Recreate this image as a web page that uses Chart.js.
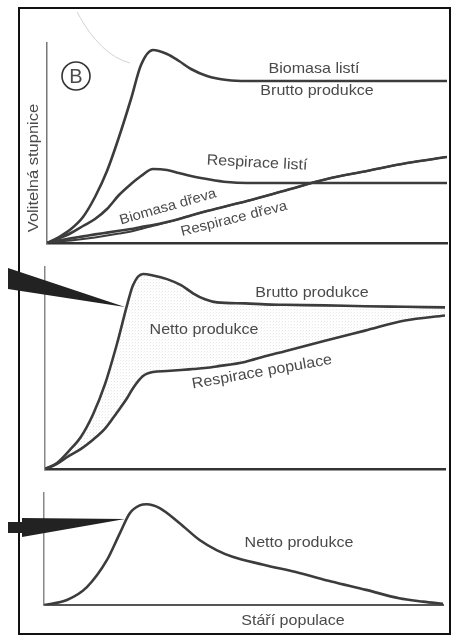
<!DOCTYPE html>
<html>
<head>
<meta charset="utf-8">
<script src="https://cdn.jsdelivr.net/npm/chart.js@4.4.1/dist/chart.umd.min.js"></script>
<style>
  html, body { margin: 0; padding: 0; background: #fff; }
  #page { position: relative; width: 456px; height: 640px; overflow: hidden; }
  #frame { position: absolute; left: 18px; top: 7px; width: 433px; height: 628px; box-sizing: border-box; border: 2px solid #111; }
  canvas { position: absolute; left: 0; }
</style>
</head>
<body>
<div id="page">
  <div id="frame"></div>
  <canvas id="top" width="456" height="252" style="top:0"></canvas>
  <canvas id="mid" width="456" height="222" style="top:252px"></canvas>
  <canvas id="bot" width="456" height="166" style="top:474px"></canvas>
</div>
<script>
// top panel: leaves and wood
const topAge = [0, 3, 6, 9, 12, 15, 18, 21, 23.5, 26.5, 30, 33, 36, 40, 45, 50, 60, 70, 80, 90, 100];
const leafBiomass = [0, 3, 7, 13, 23, 36, 53, 72, 89, 96.5, 94.5, 91, 87, 83.5, 81.5, 81, 81, 81, 81, 81, 81];
const leafResp = [0, 2.3, 5, 8.5, 12, 17, 24, 29.5, 33.5, 37, 36.5, 35, 33.5, 32, 30.5, 30, 30, 30, 30, 30, 30];
const woodBiomass = [0, 1.2, 2.3, 3.3, 4.3, 5.2, 6.1, 7, 8, 9, 10.5, 12, 13.8, 16, 18.5, 21, 26.5, 32, 36, 40, 43];
const woodResp = [0, 0.6, 1.3, 2, 2.8, 3.7, 4.7, 5.8, 7, 8.6, 10.3, 12, 13.8, 16, 18.5, 21, 26.5, 32, 36, 40, 43];

// middle panel: population
const midAge = [0, 3, 6, 9, 12, 15, 18, 20.5, 22, 24.5, 27, 30.5, 34, 37, 40, 43, 50, 55, 60, 70, 80, 90, 100];
const grossProd = [0, 3, 9, 16, 27, 42, 62, 81, 91, 96.5, 95.8, 94, 91, 87, 84, 82.5, 82, 81.5, 81.3, 81, 80.6, 80.3, 80];
const popResp = [0, 2.5, 6.5, 10, 14.5, 20, 28, 35, 40, 46, 48, 48.5, 49, 49.5, 50, 50.8, 53, 55.8, 58.3, 63.5, 68.5, 73.5, 76];

// bottom panel: net production
const botAge = [0, 5.75, 10.75, 15.75, 19, 21.5, 24, 25.75, 29, 34, 39, 43.25, 47.25, 55, 64, 72, 80.75, 89, 95, 100];
const netProd = [0, 4.5, 16, 40, 64, 82, 89, 90, 86.5, 73, 58, 49, 43, 36, 28.5, 21, 13.5, 6, 3, 1];

const INK = '#3c3c3c';
const TEXT = '#4a4a4a';
const FONT = '"Liberation Sans", Arial, sans-serif';

function points(xs, ys) {
  return xs.map((x, i) => ({x: x, y: ys[i]}));
}

function curve(xs, ys, extra) {
  return Object.assign({
    data: points(xs, ys),
    borderColor: INK,
    borderWidth: 2.6,
    pointRadius: 0,
    cubicInterpolationMode: 'monotone',
    fill: false,
  }, extra || {});
}

function axes(xBorder, yBorder) {
  return {
    x: {type: 'linear', min: 0, max: 100, ticks: {display: false}, grid: {display: false, drawTicks: false}, border: xBorder},
    y: {type: 'linear', min: 0, max: 100, ticks: {display: false}, grid: {display: false, drawTicks: false}, border: yBorder},
  };
}

// scanned lettering is a little wider than the font
function label(ctx, text, x, y, rot, size, stretch) {
  ctx.save();
  ctx.translate(x, y);
  ctx.rotate((rot || 0) * Math.PI / 180);
  ctx.scale(stretch || 1.07, 1);
  ctx.font = (size || 15) + 'px ' + FONT;
  ctx.fillStyle = TEXT;
  ctx.textAlign = 'center';
  ctx.textBaseline = 'middle';
  ctx.fillText(text, 0, 0);
  ctx.restore();
}

function wedge(ctx, pts) {
  ctx.save();
  ctx.fillStyle = '#222';
  ctx.beginPath();
  ctx.moveTo(pts[0][0], pts[0][1]);
  for (let i = 1; i < pts.length; i++) ctx.lineTo(pts[i][0], pts[i][1]);
  ctx.closePath();
  ctx.fill();
  ctx.restore();
}

// light stipple for the net production area
function stipple() {
  const c = document.createElement('canvas');
  c.width = 3; c.height = 3;
  const g = c.getContext('2d');
  g.fillStyle = 'rgba(0,0,0,0.09)';
  g.fillRect(0, 0, 1, 1);
  g.fillStyle = 'rgba(0,0,0,0.04)';
  g.fillRect(2, 1, 1, 1);
  return g.createPattern(c, 'repeat');
}

const baseOptions = (pad, scales) => ({
  responsive: false,
  animation: false,
  events: [],
  layout: {padding: pad},
  plugins: {legend: {display: false}, title: {display: false}, tooltip: {enabled: false}},
  scales: scales,
});

new Chart(document.getElementById('top'), {
  type: 'line',
  data: {
    datasets: [
      curve(topAge, leafBiomass),
      curve(topAge, leafResp),
      curve(topAge, woodBiomass),
      curve(topAge, woodResp, {borderWidth: 2}),
    ],
  },
  options: baseOptions({left: 47, top: 43, right: 9, bottom: 9},
    axes({display: true, color: '#333', width: 2.5}, {display: true, color: '#777', width: 1.5})),
  plugins: [{
    id: 'topNotes',
    afterDraw(chart) {
      const ctx = chart.ctx;
      // faint scan trace
      ctx.save();
      ctx.strokeStyle = '#d2d2d2';
      ctx.lineWidth = 1;
      ctx.beginPath();
      ctx.moveTo(77, 12);
      ctx.quadraticCurveTo(100, 55, 130, 63);
      ctx.stroke();
      // circled B
      ctx.strokeStyle = '#333';
      ctx.lineWidth = 1.6;
      ctx.beginPath();
      ctx.arc(76, 76, 14, 0, Math.PI * 2);
      ctx.stroke();
      ctx.restore();
      label(ctx, 'B', 76, 77, 0, 20, 1);
      label(ctx, 'Biomasa listí', 314, 69);
      label(ctx, 'Brutto produkce', 317, 91);
      label(ctx, 'Respirace listí', 257, 163, 3);
      label(ctx, 'Biomasa dřeva', 168, 207, -16, 14);
      label(ctx, 'Respirace dřeva', 234, 219, -14, 14);
      label(ctx, 'Volitelná stupnice', 34, 168, -90, 15, 1.1);
    },
  }],
});

new Chart(document.getElementById('mid'), {
  type: 'line',
  data: {
    datasets: [
      curve(midAge, grossProd, {fill: '+1', backgroundColor: stipple()}),
      curve(midAge, popResp),
    ],
  },
  options: baseOptions({left: 45, top: 15, right: 11, bottom: 5},
    axes({display: true, color: '#333', width: 2.5}, {display: true, color: '#888', width: 1.5})),
  plugins: [{
    id: 'midNotes',
    afterDraw(chart) {
      const ctx = chart.ctx;
      wedge(ctx, [[8, 16], [125, 55], [8, 37]]);
      label(ctx, 'Brutto produkce', 312, 41);
      label(ctx, 'Netto produkce', 204, 78);
      label(ctx, 'Respirace populace', 262, 120, -10);
    },
  }],
});

new Chart(document.getElementById('bot'), {
  type: 'line',
  data: {
    datasets: [curve(botAge, netProd)],
  },
  options: baseOptions({left: 44, top: 19, right: 13, bottom: 35},
    axes({display: true, color: '#555', width: 2}, {display: true, color: '#888', width: 1.5})),
  plugins: [{
    id: 'botNotes',
    afterDraw(chart) {
      const ctx = chart.ctx;
      wedge(ctx, [[8, 48], [22, 48], [22, 44], [125, 45], [22, 63], [22, 59], [8, 59]]);
      label(ctx, 'Netto produkce', 299, 69);
      label(ctx, 'Stáří populace', 293, 147);
    },
  }],
});
</script>
</body>
</html>
